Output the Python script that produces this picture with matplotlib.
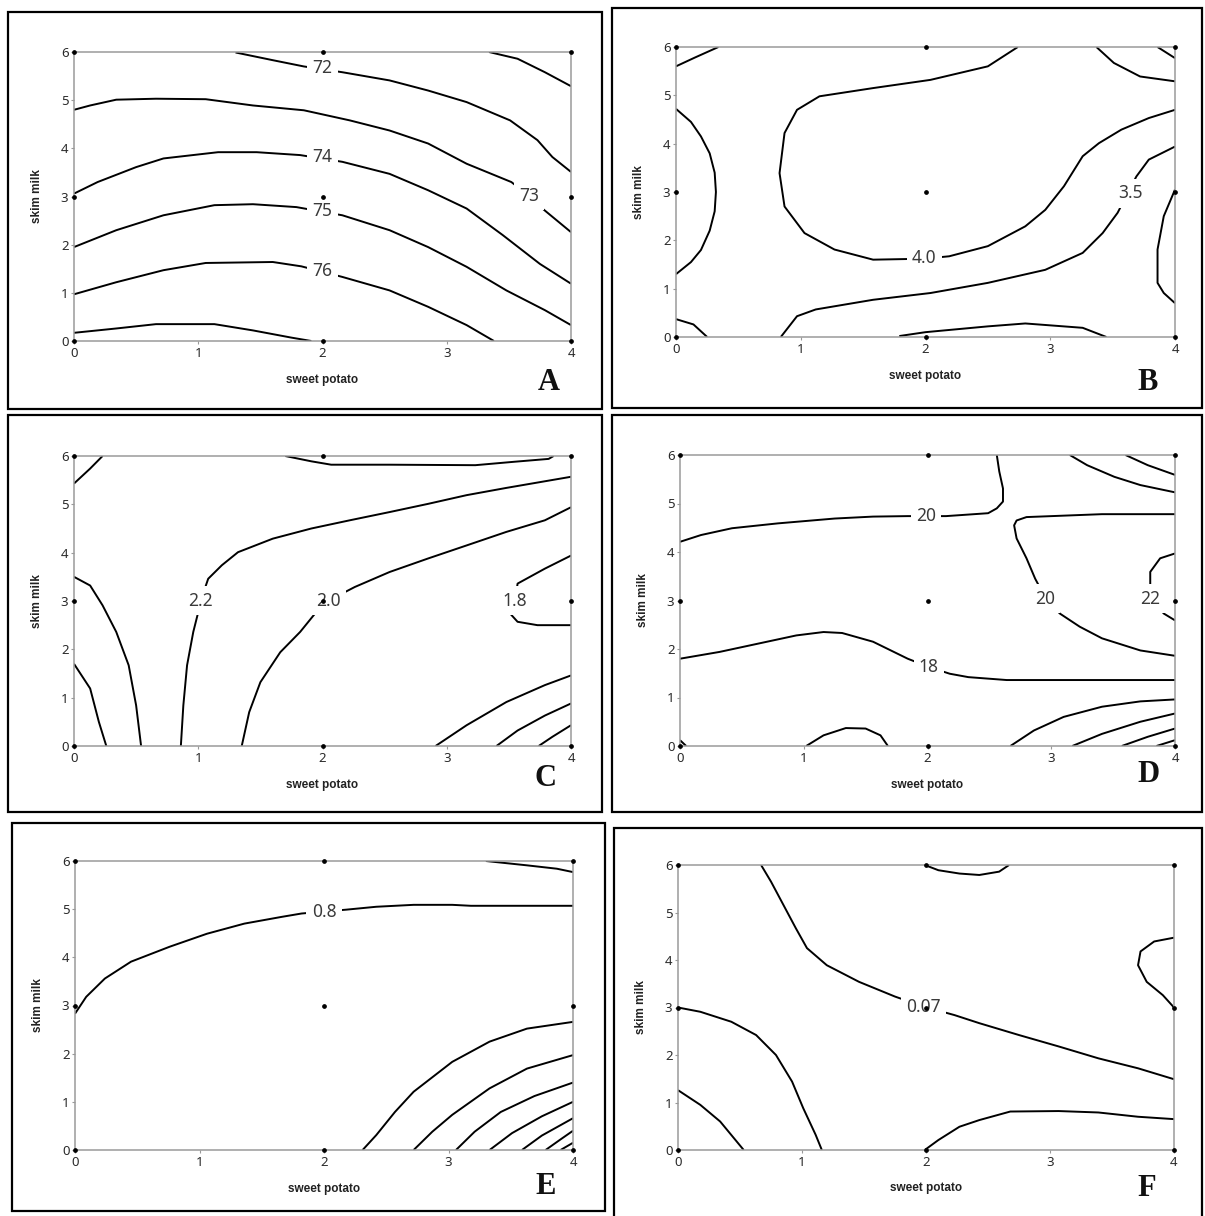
import matplotlib.pyplot as plt
from matplotlib.patches import Rectangle

W, H = 1205, 1216

x_ticks = [0, 1, 2, 3, 4]
y_ticks = [0, 1, 2, 3, 4, 5, 6]
design_x = [0, 0, 0, 2, 2, 2, 4, 4, 4]
design_y = [0, 3, 6, 0, 3, 6, 0, 3, 6]

# contour lines: (sweet potato values, skim milk values)
a_lines = [
    ([3.34, 3.57, 3.79, 4.0], [6.0, 5.86, 5.58, 5.29]),
    ([1.30, 1.60, 1.85, 2.16, 2.54, 2.85, 3.16, 3.51, 3.73, 3.85, 4.0],
     [5.99, 5.83, 5.70, 5.58, 5.41, 5.20, 4.96, 4.58, 4.17, 3.82, 3.51]),
    ([0, 0.13, 0.34, 0.66, 1.06, 1.44, 1.85, 2.22, 2.54, 2.85, 3.16, 3.52, 3.66, 3.77, 4.0],
     [4.80, 4.89, 5.01, 5.03, 5.02, 4.89, 4.79, 4.58, 4.37, 4.10, 3.68, 3.30, 3.02, 2.75, 2.26]),
    ([0, 0.19, 0.50, 0.72, 1.16, 1.47, 1.82, 2.16, 2.54, 2.85, 3.16, 3.45, 3.75, 4.0],
     [3.06, 3.30, 3.61, 3.79, 3.92, 3.92, 3.86, 3.72, 3.47, 3.13, 2.75, 2.20, 1.60, 1.19]),
    ([0, 0.34, 0.72, 1.13, 1.44, 1.79, 2.16, 2.54, 2.85, 3.16, 3.48, 3.79, 4.0],
     [1.95, 2.30, 2.61, 2.82, 2.84, 2.78, 2.61, 2.30, 1.95, 1.54, 1.05, 0.64, 0.33]),
    ([0, 0.34, 0.72, 1.06, 1.60, 1.83, 2.16, 2.54, 2.85, 3.16, 3.38],
     [0.97, 1.22, 1.47, 1.62, 1.64, 1.55, 1.33, 1.05, 0.71, 0.33, 0]),
    ([0, 0.34, 0.66, 1.13, 1.44, 1.75, 1.91],
     [0.17, 0.26, 0.35, 0.35, 0.22, 0.07, 0]),
]
a_labels = [("72", 2.0, 5.66), ("73", 3.66, 3.02), ("74", 2.0, 3.81),
            ("75", 2.0, 2.70), ("76", 2.0, 1.45)]

b_lines = [
    ([0, 0.15, 0.34], [5.6, 5.78, 6.0]),
    ([0, 0.12, 0.20, 0.27, 0.31, 0.32, 0.31, 0.27, 0.20, 0.12, 0],
     [4.72, 4.45, 4.15, 3.80, 3.40, 3.0, 2.60, 2.20, 1.80, 1.55, 1.30]),
    ([0, 0.14, 0.25], [0.37, 0.26, 0.0]),
    ([2.74, 2.50, 2.04, 1.58, 1.15, 0.97, 0.87, 0.83, 0.87, 1.03, 1.27, 1.58, 1.99, 2.19, 2.50,
      2.80, 2.96, 3.11, 3.26, 3.39, 3.57, 3.79, 4.0],
     [6.0, 5.60, 5.32, 5.15, 4.98, 4.70, 4.22, 3.39, 2.70, 2.15, 1.81, 1.60, 1.62, 1.67, 1.88,
      2.29, 2.63, 3.12, 3.74, 4.01, 4.29, 4.53, 4.70]),
    ([3.37, 3.51, 3.72, 4.0], [6.0, 5.67, 5.39, 5.29]),
    ([3.86, 4.0], [6.0, 5.77]),
    ([4.0, 3.79, 3.69, 3.54, 3.42, 3.26, 2.96, 2.50, 2.04, 1.58, 1.12, 0.97, 0.84],
     [3.94, 3.67, 3.32, 2.57, 2.15, 1.74, 1.39, 1.12, 0.91, 0.77, 0.57, 0.43, 0.0]),
    ([4.0, 3.91, 3.86, 3.86, 3.91, 4.0], [3.05, 2.5, 1.81, 1.12, 0.91, 0.70]),
    ([1.79, 2.0, 2.5, 2.8, 3.26, 3.45], [0.02, 0.10, 0.22, 0.28, 0.19, 0.0]),
]
b_labels = [("4.0", 1.99, 1.63), ("3.5", 3.64, 2.97)]

c_lines = [
    ([0, 0.13, 0.23], [5.43, 5.74, 6.0]),
    ([1.70, 1.91, 2.07, 2.54, 3.23, 3.54, 3.82, 3.86], [6.0, 5.89, 5.82, 5.82, 5.81, 5.88, 5.94, 6.0]),
    ([0, 0.13, 0.23, 0.34, 0.44, 0.50, 0.54], [3.50, 3.32, 2.91, 2.36, 1.67, 0.84, 0]),
    ([0, 0.13, 0.20, 0.26], [1.70, 1.19, 0.50, 0]),
    ([0.86, 0.88, 0.91, 0.96, 1.00, 1.02, 1.08, 1.19, 1.32, 1.60, 1.91, 2.22, 2.54, 2.85, 3.16,
      3.48, 4.0],
     [0, 0.84, 1.67, 2.36, 2.77, 3.01, 3.46, 3.74, 4.01, 4.29, 4.50, 4.67, 4.84, 5.01, 5.19,
      5.34, 5.57]),
    ([1.35, 1.41, 1.50, 1.66, 1.82, 1.94, 2.05, 2.26, 2.54, 2.85, 3.16, 3.48, 3.79, 4.0],
     [0, 0.70, 1.32, 1.94, 2.36, 2.74, 3.01, 3.29, 3.60, 3.88, 4.15, 4.43, 4.67, 4.94]),
    ([4.0, 3.79, 3.57, 3.55, 3.51, 3.57, 3.73, 4.0], [3.94, 3.67, 3.36, 3.01, 2.74, 2.57, 2.50, 2.50]),
    ([2.91, 3.16, 3.48, 3.79, 4.0], [0, 0.43, 0.91, 1.26, 1.46]),
    ([3.40, 3.57, 3.79, 4.0], [0, 0.32, 0.63, 0.88]),
    ([3.74, 3.85, 4.0], [0, 0.19, 0.43]),
]
c_labels = [("2.2", 1.02, 3.01), ("2.0", 2.05, 3.01), ("1.8", 3.55, 3.01)]

d_lines = [
    ([0, 0.17, 0.42, 0.79, 1.25, 1.56, 1.84, 1.99, 2.15, 2.49, 2.56, 2.61, 2.61, 2.58, 2.56],
     [4.21, 4.35, 4.49, 4.59, 4.69, 4.73, 4.74, 4.74, 4.74, 4.80, 4.90, 5.04, 5.31, 5.66, 6.0]),
    ([3.15, 3.29, 3.51, 3.72, 4.0], [6.0, 5.79, 5.55, 5.38, 5.23]),
    ([3.60, 3.78, 4.0], [6.0, 5.79, 5.59]),
    ([4.0, 3.41, 2.80, 2.72, 2.70, 2.72, 2.80, 2.87, 2.92, 2.95, 3.07, 3.23, 3.41, 3.72, 4.0],
     [4.78, 4.78, 4.72, 4.65, 4.55, 4.28, 3.87, 3.45, 3.21, 3.04, 2.73, 2.46, 2.22, 1.97, 1.86]),
    ([4.0, 3.88, 3.80, 3.80, 3.80, 3.91, 4.0], [3.97, 3.87, 3.59, 3.32, 3.04, 2.73, 2.59]),
    ([0, 0.32, 0.63, 0.94, 1.16, 1.31, 1.56, 1.84, 2.01, 2.18, 2.33, 2.64, 4.0],
     [1.80, 1.94, 2.11, 2.28, 2.35, 2.33, 2.15, 1.80, 1.63, 1.49, 1.42, 1.36, 1.36]),
    ([1.02, 1.16, 1.34, 1.50, 1.62, 1.68], [0, 0.22, 0.37, 0.36, 0.22, 0]),
    ([2.67, 2.86, 3.10, 3.41, 3.72, 4.0], [0, 0.32, 0.60, 0.81, 0.92, 0.96]),
    ([3.17, 3.41, 3.72, 4.0], [0, 0.25, 0.50, 0.67]),
    ([3.57, 3.78, 4.0], [0, 0.19, 0.36]),
    ([3.85, 4.0], [0, 0.12]),
    ([0, 0.05], [0.12, 0]),
]
d_labels = [("20", 1.99, 4.74), ("20", 2.95, 3.04), ("22", 3.80, 3.04), ("18", 2.01, 1.63)]

e_lines = [
    ([0, 0.09, 0.24, 0.45, 0.76, 1.06, 1.36, 1.66, 1.82, 2.0, 2.18, 2.42, 2.72, 3.03, 3.18, 4.0],
     [2.83, 3.18, 3.56, 3.91, 4.22, 4.49, 4.70, 4.84, 4.91, 4.95, 4.99, 5.05, 5.09, 5.09, 5.07, 5.07]),
    ([3.30, 3.63, 3.87, 4.0], [6.0, 5.91, 5.84, 5.77]),
    ([2.31, 2.42, 2.57, 2.72, 3.03, 3.33, 3.63, 4.0], [0, 0.31, 0.79, 1.21, 1.83, 2.25, 2.52, 2.66]),
    ([2.72, 2.87, 3.03, 3.33, 3.63, 4.0], [0, 0.38, 0.73, 1.28, 1.69, 1.97]),
    ([3.06, 3.21, 3.42, 3.69, 4.0], [0, 0.38, 0.79, 1.12, 1.40]),
    ([3.33, 3.51, 3.75, 4.0], [0, 0.35, 0.70, 1.00]),
    ([3.59, 3.75, 4.0], [0, 0.30, 0.66]),
    ([3.78, 3.90, 4.0], [0, 0.22, 0.40]),
    ([3.90, 4.0], [0, 0.15]),
]
e_labels = [("0.8", 2.0, 4.95)]

f_lines = [
    ([0.67, 0.75, 0.85, 0.95, 1.04, 1.20, 1.46, 1.75, 1.98, 2.23, 2.43, 2.75, 3.07, 3.39, 3.71, 4.0],
     [6.0, 5.65, 5.16, 4.67, 4.25, 3.89, 3.54, 3.23, 3.02, 2.84, 2.67, 2.42, 2.18, 1.93, 1.72, 1.49]),
    ([1.99, 2.10, 2.27, 2.43, 2.59, 2.67], [6.0, 5.89, 5.82, 5.79, 5.86, 6.0]),
    ([4.0, 3.84, 3.73, 3.71, 3.78, 3.91, 4.0], [4.47, 4.39, 4.18, 3.89, 3.54, 3.26, 3.0]),
    ([0, 0.18, 0.43, 0.63, 0.79, 0.92, 1.01, 1.11, 1.16], [3.0, 2.91, 2.70, 2.42, 2.0, 1.44, 0.88, 0.32, 0]),
    ([0, 0.18, 0.34, 0.53], [1.26, 0.95, 0.60, 0]),
    ([1.99, 2.10, 2.27, 2.43, 2.68, 3.07, 3.39, 3.71, 4.0],
     [0, 0.21, 0.49, 0.63, 0.81, 0.82, 0.79, 0.70, 0.65]),
]
f_labels = [("0.07", 1.98, 3.0)]

# pixel geometry: axes (left, right, top, bottom), outer box, panel letter
panels = [
    ("A", a_lines, a_labels, (74, 571, 52, 341), (8, 602, 12, 409), (549, 382)),
    ("B", b_lines, b_labels, (676, 1175, 47, 337), (612, 1202, 8, 408), (1148, 382)),
    ("C", c_lines, c_labels, (74, 571, 456, 746), (8, 602, 415, 812), (545, 779)),
    ("D", d_lines, d_labels, (680, 1175, 455, 746), (612, 1202, 415, 812), (1148, 775)),
    ("E", e_lines, e_labels, (75, 573, 861, 1150), (12, 605, 823, 1211), (546, 1187)),
    ("F", f_lines, f_labels, (678, 1174, 865, 1150), (614, 1202, 828, 1222), (1147, 1189)),
]

fig = plt.figure(figsize=(W / 100, H / 100), dpi=100)
fig.patch.set_facecolor("white")

for letter, lines, labels, (l, r, t, b), (bl, br, bt, bb), (lx, ly) in panels:
    fig.patches.append(Rectangle((bl / W, 1 - bb / H), (br - bl) / W, (bb - bt) / H,
                                 transform=fig.transFigure, fill=False, ec="black", lw=1.6))
    ax = fig.add_axes([l / W, 1 - b / H, (r - l) / W, (b - t) / H])
    for xs, ys in lines:
        ax.plot(xs, ys, color="black", lw=1.4, solid_capstyle="butt", zorder=2)
    for txt, x, y in labels:
        ax.text(x, y, txt, ha="center", va="center", fontsize=12.5, color="#3a3a3a",
                family="Noto Sans", zorder=3,
                bbox=dict(boxstyle="square,pad=0.3", fc="white", ec="none"))
    ax.plot(design_x, design_y, "o", color="black", ms=2.4, zorder=5, clip_on=False)
    ax.set_xlim(0, 4)
    ax.set_ylim(0, 6)
    ax.set_xticks(x_ticks)
    ax.set_yticks(y_ticks)
    ax.tick_params(length=2, width=0.8, color="#999999", pad=2, labelsize=9.5,
                   labelcolor="#2a2a2a")
    for lab in ax.get_xticklabels() + ax.get_yticklabels():
        lab.set_family("Noto Sans")
    for sp in ax.spines.values():
        sp.set_color("#9a9a9a")
        sp.set_linewidth(1.1)
    ax.text(0.5, -0.135, "sweet potato", transform=ax.transAxes, ha="center", va="center",
            fontsize=8.5, fontweight="bold", color="#222222", family="Liberation Sans")
    ax.text(-0.075, 0.5, "skim milk", transform=ax.transAxes, ha="center", va="center",
            rotation=90, fontsize=8.5, fontweight="bold", color="#222222", family="Liberation Sans")
    fig.text(lx / W, 1 - ly / H, letter, ha="center", va="center", fontsize=22,
             fontweight="bold", family="Liberation Serif", color="#111111")

fig.savefig("out.png", dpi=100, facecolor="white")
